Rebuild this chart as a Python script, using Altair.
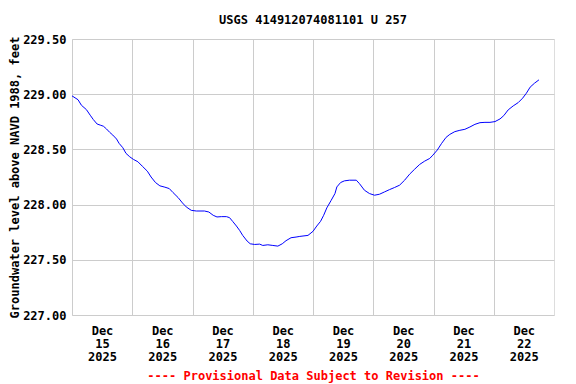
import altair as alt
import pandas as pd

times = [
    "2025-12-15 00:00", "2025-12-15 02:24", "2025-12-15 03:45", "2025-12-15 05:45",
    "2025-12-15 07:15", "2025-12-15 08:30", "2025-12-15 10:00", "2025-12-15 11:15",
    "2025-12-15 12:30", "2025-12-15 13:45", "2025-12-15 15:00", "2025-12-15 16:15",
    "2025-12-15 17:45", "2025-12-15 18:45", "2025-12-15 20:15", "2025-12-15 21:30",
    "2025-12-15 23:00", "2025-12-16 00:30", "2025-12-16 02:15", "2025-12-16 04:00",
    "2025-12-16 06:00", "2025-12-16 07:30", "2025-12-16 09:15", "2025-12-16 11:00",
    "2025-12-16 13:00", "2025-12-16 14:45", "2025-12-16 16:15", "2025-12-16 18:15",
    "2025-12-16 20:00", "2025-12-16 21:30", "2025-12-16 23:30", "2025-12-17 01:30",
    "2025-12-17 04:45", "2025-12-17 06:30", "2025-12-17 08:15", "2025-12-17 09:45",
    "2025-12-17 11:30", "2025-12-17 13:30", "2025-12-17 14:45", "2025-12-17 16:00",
    "2025-12-17 17:30", "2025-12-17 18:45", "2025-12-17 20:00", "2025-12-17 21:45",
    "2025-12-17 23:00", "2025-12-18 00:45", "2025-12-18 02:45", "2025-12-18 04:00",
    "2025-12-18 06:00", "2025-12-18 08:00", "2025-12-18 10:00", "2025-12-18 11:45",
    "2025-12-18 13:15", "2025-12-18 15:15", "2025-12-18 17:15", "2025-12-18 18:45",
    "2025-12-18 22:00", "2025-12-19 00:00", "2025-12-19 01:30", "2025-12-19 03:00",
    "2025-12-19 04:15", "2025-12-19 05:30", "2025-12-19 07:15", "2025-12-19 08:45",
    "2025-12-19 09:30", "2025-12-19 11:00", "2025-12-19 12:30", "2025-12-19 14:30",
    "2025-12-19 17:15", "2025-12-19 18:30", "2025-12-19 20:30", "2025-12-19 22:30",
    "2025-12-20 00:30", "2025-12-20 02:30", "2025-12-20 04:30", "2025-12-20 06:30",
    "2025-12-20 08:30", "2025-12-20 10:30", "2025-12-20 12:30", "2025-12-20 14:30",
    "2025-12-20 16:30", "2025-12-20 18:30", "2025-12-20 20:30", "2025-12-20 22:30",
    "2025-12-20 23:45", "2025-12-21 01:30", "2025-12-21 03:15", "2025-12-21 05:00",
    "2025-12-21 06:30", "2025-12-21 08:30", "2025-12-21 10:30", "2025-12-21 12:30",
    "2025-12-21 14:30", "2025-12-21 16:30", "2025-12-21 18:30", "2025-12-21 20:30",
    "2025-12-21 22:30", "2025-12-22 00:30", "2025-12-22 02:30", "2025-12-22 04:00",
    "2025-12-22 05:45", "2025-12-22 07:45", "2025-12-22 09:45", "2025-12-22 11:30",
    "2025-12-22 13:00", "2025-12-22 14:30", "2025-12-22 16:15", "2025-12-22 18:00",
]
levels = [
    228.985, 228.95, 228.90, 228.86, 228.81, 228.77, 228.73, 228.72,
    228.71, 228.685, 228.655, 228.63, 228.594, 228.555, 228.515, 228.464,
    228.433, 228.409, 228.388, 228.348, 228.303, 228.25, 228.20, 228.17,
    228.158, 228.145, 228.109, 228.064, 228.015, 227.979, 227.948, 227.942,
    227.942, 227.933, 227.903, 227.888, 227.891, 227.891, 227.882, 227.848,
    227.806, 227.767, 227.721, 227.67, 227.645, 227.639, 227.642, 227.63,
    227.636, 227.63, 227.624, 227.645, 227.673, 227.70, 227.706, 227.712,
    227.721, 227.758, 227.806, 227.848, 227.903, 227.97, 228.039, 228.10,
    228.16, 228.20, 228.215, 228.221, 228.221, 228.19, 228.13, 228.10,
    228.085, 228.094, 228.115, 228.136, 228.155, 228.176, 228.221, 228.276,
    228.321, 228.364, 228.394, 228.418, 228.448, 228.494, 228.555, 228.609,
    228.636, 228.661, 228.673, 228.682, 228.703, 228.727, 228.742, 228.745,
    228.745, 228.752, 228.776, 228.806, 228.858, 228.894, 228.924, 228.964,
    229.009, 229.064, 229.10, 229.13,
]
day_ticks = [15, 16, 17, 18, 19, 20, 21, 22]
y_ticks = [227.0, 227.5, 228.0, 228.5, 229.0, 229.5]

df = pd.DataFrame({"time": pd.to_datetime(times), "level": levels})

FONT = "DejaVu Sans Mono"

tick_dt = [alt.DateTime(year=2025, month=12, date=d) for d in day_ticks]

chart = alt.Chart(df).mark_line(color="#0000FF", strokeWidth=1).encode(
    x=alt.X(
        "time:T",
        scale=alt.Scale(domain=[alt.DateTime(year=2025, month=12, date=15),
                                alt.DateTime(year=2025, month=12, date=23)]),
        axis=alt.Axis(
            values=tick_dt,
            labelExpr="[timeFormat(datum.value, '%b'), timeFormat(datum.value, '%d'), timeFormat(datum.value, '%Y')]",
            labelOffset=30,
            labelFlush=False,
            labelOverlap=False,
            labelLineHeight=13,
            labelPadding=10,
            ticks=False,
            domain=False,
            grid=True,
            gridColor="#CCCCCC",
            gridWidth=1,
            labelFont=FONT,
            labelFontWeight="bold",
            labelFontSize=12,
            labelColor="black",
            title="---- Provisional Data Subject to Revision ----",
            titleFont=FONT,
            titleFontWeight="bold",
            titleFontSize=12,
            titleColor="#FF0000",
            titlePadding=8,
        ),
    ),
    y=alt.Y(
        "level:Q",
        scale=alt.Scale(domain=[227.0, 229.5], nice=False, zero=False),
        axis=alt.Axis(
            values=y_ticks,
            format=".2f",
            ticks=False,
            domain=False,
            grid=True,
            gridColor="#CCCCCC",
            gridWidth=1,
            labelFont=FONT,
            labelFontWeight="bold",
            labelFontSize=12,
            labelColor="black",
            labelPadding=6,
            title="Groundwater level above NAVD 1988, feet",
            titleFont=FONT,
            titleFontWeight="bold",
            titleFontSize=12,
            titleColor="black",
            titlePadding=1,
        ),
    ),
).properties(
    width=482,
    height=276,
    title=alt.TitleParams(
        "USGS 414912074081101 U 257",
        font=FONT,
        fontWeight="bold",
        fontSize=12,
        color="black",
        offset=6,
    ),
    autosize=alt.AutoSizeParams(type="none"),
    padding={"left": 64, "top": 31, "right": 14, "bottom": 69},
).configure_view(
    stroke="black",
    strokeWidth=1,
).configure(background="white")

chart.save("out.html", embed_options={"renderer": "svg", "actions": False})
